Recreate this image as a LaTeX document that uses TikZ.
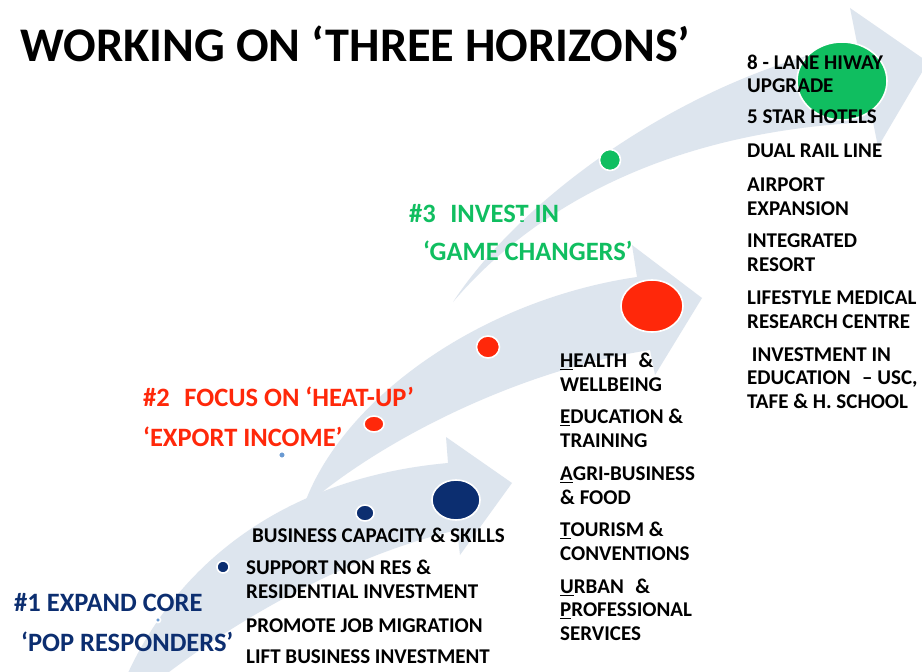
\documentclass[tikz,border=0pt]{standalone}
\usepackage{fontspec}
\setmainfont{Carlito}
\usetikzlibrary{shapes.geometric}
\definecolor{bandc}{RGB}{221,229,238}
\definecolor{navyc}{RGB}{12,46,112}
\definecolor{redc}{RGB}{255,40,10}
\definecolor{greenc}{RGB}{16,190,96}
\definecolor{paleblue}{RGB}{106,154,210}
\newcommand{\ul}[1]{\underline{#1}}
\newcommand{\gap}{\hspace{0.55em}}
\begin{document}
\begin{tikzpicture}[x=1bp,y=-1bp,
  band/.style={fill=bandc, draw=none},
  dot/.style={ellipse, draw=white, line width=1.6bp, inner sep=0pt},
  % multi-line items are placed by the baseline of their last line
  item/.style={anchor=base west, inner sep=0pt, align=left, text=black,
    font=\fontsize{21bp}{23.4bp}\selectfont\bfseries},
  horizon/.style={anchor=base west, inner sep=0pt,
    font=\fontsize{26.5bp}{30bp}\selectfont\bfseries},
  titletext/.style={anchor=base west, inner sep=0pt, text=black,
    font=\fontsize{48.3bp}{56bp}\selectfont\bfseries},
]
\useasboundingbox[fill=white] (0,0) rectangle (922,672);
\begin{scope}
\clip (0,0) rectangle (922,672);
% curved arrow of horizon 1
\fill[band] (110,720) .. controls (150,590) and (260,480) .. (448,463)
  -- (446,437) -- (512,483) -- (460,555) -- (457,530)
  .. controls (330,560) and (200,640) .. cycle;
% curved arrow of horizon 2
\fill[band] (303,508) .. controls (340,400) and (480,300) .. (637,277)
  -- (632,245) -- (702,298) -- (655,375) -- (650,350)
  .. controls (520,370) and (380,440) .. cycle;
% curved arrow of horizon 3
\fill[band] (453,302) .. controls (520,200) and (680,80) .. (857,43)
  -- (850,8) -- (928,62) -- (878,147) -- (873,122)
  .. controls (680,130) and (540,200) .. cycle;
\end{scope}

% milestone dots
\node[dot, fill=paleblue, minimum width=5bp, minimum height=5bp] (p1) at (158,620) {};
\node[dot, fill=paleblue, minimum width=7bp, minimum height=7bp] (p2) at (282,455) {};
\node[dot, fill=navyc, minimum width=12bp, minimum height=12bp] (n1) at (223,567) {};
\node[dot, fill=navyc, minimum width=18bp, minimum height=16bp] (n2) at (365,513) {};
\node[dot, fill=navyc, minimum width=48bp, minimum height=40bp] (n3) at (456,500) {};
\node[dot, fill=redc, minimum width=20bp, minimum height=16bp] (r1) at (374,424) {};
\node[dot, fill=redc, minimum width=23bp, minimum height=22bp] (r2) at (488,347) {};
\node[dot, fill=redc, minimum width=62bp, minimum height=52bp] (r3) at (652,306) {};
\node[dot, fill=greenc, minimum width=21bp, minimum height=21bp] (g1) at (610,160) {};
\node[dot, fill=greenc, minimum width=90bp, minimum height=78bp] (g2) at (842,81) {};

% title
\node[titletext] (title) at (20,62) {WORKING ON ‘THREE HORIZONS’};

% horizon labels
\node[horizon, text=navyc] (h1a) at (14,611) {\#1 EXPAND CORE};
\node[horizon, text=navyc] (h1b) at (21,651) {‘POP RESPONDERS’};
\node[horizon, text=redc] (h2a) at (143,406) {\#2\gap FOCUS ON ‘HEAT-UP’};
\node[horizon, text=redc] (h2b) at (143,446) {‘EXPORT INCOME’};
\node[horizon, text=greenc] (h3a) at (409,222) {\#3\gap INVEST IN};
\node[horizon, text=greenc] (h3b) at (423,260) {‘GAME CHANGERS’};
\node[dot, fill=white, draw=none, minimum width=5bp, minimum height=5bp] (w1) at (522,218) {};

% horizon 1 actions
\node[item] (a1) at (252,542) {BUSINESS CAPACITY \& SKILLS};
\node[item] (a2) at (246,598) {SUPPORT NON RES \&\\RESIDENTIAL INVESTMENT};
\node[item] (a3) at (246,632) {PROMOTE JOB MIGRATION};
\node[item] (a4) at (246,663) {LIFT BUSINESS INVESTMENT};

% horizon 2 sectors
\node[item] (b1) at (560,391) {\ul{H}EALTH\gap\&\\WELLBEING};
\node[item] (b2) at (560,447) {\ul{E}DUCATION \&\\TRAINING};
\node[item] (b3) at (560,504) {\ul{A}GRI-BUSINESS\\\& FOOD};
\node[item] (b4) at (560,560) {\ul{T}OURISM \&\\CONVENTIONS};
\node[item] (b5) at (560,640) {\ul{U}RBAN\gap\&\\\ul{P}ROFESSIONAL\\SERVICES};

% horizon 3 projects
\node[item] (c1) at (747,93) {8 - LANE HIWAY\\UPGRADE};
\node[item] (c2) at (747,124) {5 STAR HOTELS};
\node[item] (c3) at (747,158) {DUAL RAIL LINE};
\node[item] (c4) at (747,215) {AIRPORT\\EXPANSION};
\node[item] (c5) at (747,271) {INTEGRATED\\RESORT};
\node[item] (c6) at (747,328) {LIFESTYLE MEDICAL\\RESEARCH CENTRE};
\node[item] (c7) at (747,408) {\ INVESTMENT IN\\EDUCATION\gap– USC,\\TAFE \& H. SCHOOL};
\end{tikzpicture}
\end{document}
